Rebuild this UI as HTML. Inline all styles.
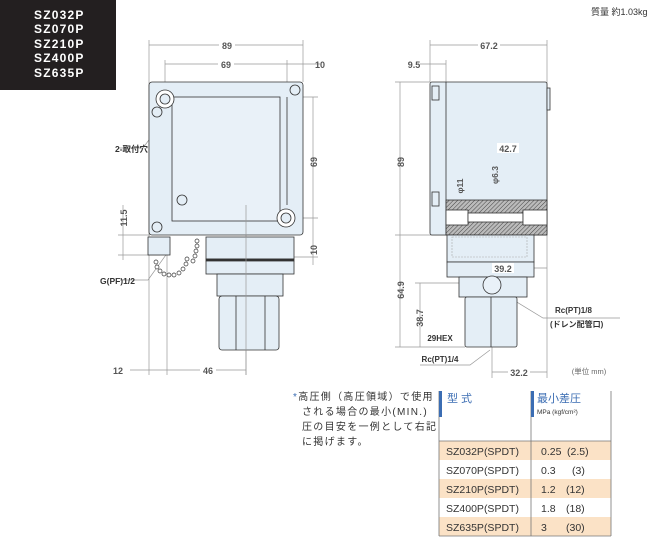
<!DOCTYPE html>
<html><head><meta charset="utf-8"><style>
body{margin:0;background:#fff;width:669px;height:551px;overflow:hidden;position:relative;font-family:"Liberation Sans","Noto Sans CJK JP",sans-serif}
svg{position:absolute;left:0;top:0}
</style></head><body>
<svg width="669" height="551" viewBox="0 0 669 551" font-family="Liberation Sans, Noto Sans CJK JP, sans-serif">
<defs>
<pattern id="h" width="3" height="3" patternUnits="userSpaceOnUse" patternTransform="rotate(45)"><rect width="3" height="3" fill="#bbb"/><line x1="0" y1="0" x2="0" y2="3" stroke="#444" stroke-width="1"/></pattern>
</defs>
<rect x="0" y="0" width="116" height="90" fill="#231f20"/>
<g fill="#fff" font-size="12" font-weight="bold" letter-spacing="1.2">
<text x="34" y="19">SZ032P</text><text x="34" y="33">SZ070P</text><text x="34" y="48">SZ210P</text><text x="34" y="62">SZ400P</text><text x="34" y="77">SZ635P</text>
</g>
<text x="591" y="15" font-size="9" fill="#333">質量 約1.03kg</text>

<!-- LEFT VIEW -->
<g stroke="#999" stroke-width="0.7" fill="none">
<line x1="149" y1="40" x2="149" y2="375"/><line x1="303" y1="40" x2="303" y2="82"/>
<line x1="149" y1="45" x2="303" y2="45"/>
<line x1="165" y1="60" x2="165" y2="100"/><line x1="287" y1="60" x2="287" y2="82"/>
<line x1="165" y1="64" x2="320" y2="64"/>
<line x1="278" y1="97" x2="318" y2="97"/><line x1="290" y1="218" x2="318" y2="218"/><line x1="294" y1="257" x2="318" y2="257"/>
<line x1="313" y1="97" x2="313" y2="265"/>
<line x1="118" y1="235" x2="150" y2="235"/><line x1="118" y1="255" x2="160" y2="255"/>
<line x1="123" y1="205" x2="123" y2="260"/>
<line x1="167" y1="250" x2="167" y2="375"/><line x1="246" y1="205" x2="246" y2="375"/>
<line x1="130" y1="370" x2="246" y2="370"/>
<polyline points="118,148 143,148 165,118"/>
<polyline points="120,280 148,280 168,252"/>
<polyline points="188,183 196,180 268,180"/>
</g>
<g fill="#555" font-size="9" font-weight="bold" text-anchor="middle">
<rect x="219" y="40" width="16" height="10" fill="#fff"/><text x="227" y="49">89</text>
<rect x="218" y="59" width="16" height="10" fill="#fff"/><text x="226" y="68">69</text>
<text x="320" y="68">10</text>
<text x="317" y="162" transform="rotate(-90 317 162)">69</text>
<text x="317" y="250" transform="rotate(-90 317 250)">10</text>
<text x="127" y="218" transform="rotate(-90 127 218)">11.5</text>
<rect x="112" y="365" width="12" height="10" fill="#fff"/><text x="118" y="374">12</text>
<rect x="200" y="365" width="16" height="10" fill="#fff"/><text x="208" y="374">46</text>
<text x="115" y="152" text-anchor="start" font-size="8.5" fill="#333">2-取付穴</text>
<text x="100" y="284" text-anchor="start" font-size="8.5" fill="#333">G(PF)1/2</text>
<text x="228" y="177" font-size="7" fill="#333">パイロットランプ(オプション)</text>
</g>
<g stroke="#333" stroke-width="0.8" fill="#e4eef6">
<rect x="149" y="82" width="154" height="153" rx="3"/>
<rect x="172" y="97" width="108" height="124" fill="#e9f1f8"/>
<line x1="287" y1="97" x2="287" y2="205"/>
<rect x="206" y="237" width="88" height="22"/>
<rect x="206" y="259" width="88" height="2" fill="#333"/>
<rect x="206" y="261" width="88" height="13"/>
<rect x="217" y="274" width="66" height="22"/>
<rect x="219" y="296" width="60" height="54" rx="3"/>
<line x1="236" y1="296" x2="236" y2="350"/><line x1="265" y1="296" x2="265" y2="350"/>
<rect x="148" y="237" width="22" height="18"/>
<circle cx="165" cy="99" r="9" fill="#fff"/><circle cx="165" cy="99" r="5"/>
<circle cx="286" cy="218" r="9" fill="#fff"/><circle cx="286" cy="218" r="5"/>
<circle cx="157" cy="112" r="5"/><circle cx="295" cy="90" r="5"/><circle cx="157" cy="227" r="5"/>
<circle cx="182" cy="200" r="5"/>
</g>
<g stroke="#333" stroke-width="0.7" fill="#fff">
<circle cx="156" cy="262" r="2"/><circle cx="157" cy="267" r="2"/><circle cx="160" cy="271" r="2"/><circle cx="164" cy="274" r="2"/><circle cx="169" cy="275" r="2"/><circle cx="174" cy="275" r="2"/><circle cx="179" cy="273" r="2"/><circle cx="183" cy="269" r="2"/><circle cx="186" cy="264" r="2"/><circle cx="187" cy="259" r="2"/><circle cx="197" cy="241" r="2"/><circle cx="197" cy="246" r="2"/><circle cx="196" cy="251" r="2"/><circle cx="195" cy="256" r="2"/><circle cx="193" cy="261" r="2"/>
</g>
<line x1="246" y1="205" x2="246" y2="375" stroke="#999" stroke-width="0.7"/>

<!-- RIGHT VIEW -->
<g stroke="#999" stroke-width="0.7" fill="none">
<line x1="430" y1="40" x2="430" y2="82"/><line x1="547" y1="40" x2="547" y2="378"/>
<line x1="430" y1="45" x2="547" y2="45"/>
<line x1="446" y1="60" x2="446" y2="82"/><line x1="420" y1="64" x2="446" y2="64"/>
<line x1="395" y1="82" x2="430" y2="82"/><line x1="395" y1="235" x2="447" y2="235"/><line x1="395" y1="347" x2="465" y2="347"/>
<line x1="400" y1="82" x2="400" y2="347"/>
<line x1="415" y1="283" x2="492" y2="283"/><line x1="420" y1="283" x2="420" y2="347"/>
<line x1="470" y1="140" x2="470" y2="200"/><line x1="470" y1="148" x2="547" y2="148"/>
<line x1="478" y1="255" x2="478" y2="270"/><line x1="478" y1="268" x2="547" y2="268"/>
<line x1="492" y1="345" x2="492" y2="378"/><line x1="492" y1="372" x2="547" y2="372"/>
<line x1="467" y1="337" x2="516" y2="337"/>
<polyline points="497,290 543,318 620,318"/>
<polyline points="490,350 470,365 420,365"/>
</g>
<g stroke="#333" stroke-width="0.8" fill="#e4eef6">
<rect x="430" y="82" width="117" height="153" rx="2"/>
<line x1="446" y1="82" x2="446" y2="235"/>
<rect x="547" y="88" width="3" height="22"/>
<rect x="446" y="200" width="101" height="35" fill="url(#h)"/>
<rect x="446" y="210" width="22" height="15" fill="#fff"/><rect x="468" y="213" width="55" height="9" fill="#fff"/><rect x="523" y="210" width="24" height="15" fill="#fff"/>
<rect x="432" y="86" width="7" height="14"/><rect x="432" y="192" width="7" height="14"/>
<rect x="447" y="235" width="87" height="27"/>
<rect x="447" y="262" width="87" height="15"/>
<rect x="459" y="277" width="68" height="20"/>
<rect x="465" y="297" width="52" height="50" rx="2"/>
<line x1="491" y1="297" x2="491" y2="347"/>
<circle cx="492" cy="285" r="9" fill="#e9f1f8"/>
</g>
<rect x="452" y="237" width="75" height="20" fill="none" stroke="#aaa" stroke-dasharray="2,1" stroke-width="0.6"/>
<g fill="#555" font-size="9" font-weight="bold" text-anchor="middle">
<rect x="478" y="40" width="22" height="10" fill="#fff"/><text x="489" y="49">67.2</text>
<text x="414" y="68">9.5</text>
<text x="404" y="162" transform="rotate(-90 404 162)">89</text>
<text x="404" y="290" transform="rotate(-90 404 290)">64.9</text>
<text x="423" y="318" transform="rotate(-90 423 318)">38.7</text>
<rect x="497" y="143" width="22" height="10" fill="#fff"/><text x="508" y="152">42.7</text>
<rect x="492" y="263" width="22" height="10" fill="#fff"/><text x="503" y="272">39.2</text>
<rect x="508" y="367" width="22" height="10" fill="#fff"/><text x="519" y="376">32.2</text>
<text x="463" y="186" transform="rotate(-90 463 186)" font-size="8.5">φ11</text>
<text x="498" y="175" transform="rotate(-90 498 175)" font-size="8.5">φ6.3</text>
<text x="555" y="313" text-anchor="start" font-size="8" fill="#333">Rc(PT)1/8</text>
<text x="550" y="327" text-anchor="start" font-size="8" fill="#333">(ドレン配管口)</text>
<text x="440" y="341" font-size="8" fill="#333">29HEX</text>
<text x="440" y="362" font-size="8" fill="#333">Rc(PT)1/4</text>
<text x="589" y="374" font-size="7.5" font-weight="normal" fill="#666">(単位 mm)</text>
</g>

<!-- NOTE -->
<g font-size="10" fill="#333" letter-spacing="1.3">
<text x="293" y="400"><tspan fill="#3b6db3">*</tspan>高圧側（高圧領域）で使用</text>
<text x="302" y="415">される場合の最小(MIN.)</text>
<text x="302" y="430">圧の目安を一例として右記</text>
<text x="302" y="445">に掲げます。</text>
</g>

<!-- TABLE -->
<rect x="439" y="441" width="172" height="19" fill="#fbe2c6"/>
<rect x="439" y="479" width="172" height="19" fill="#fbe2c6"/>
<rect x="439" y="517" width="172" height="19" fill="#fbe2c6"/>
<g stroke="#777" stroke-width="0.8" fill="none">
<line x1="439" y1="391" x2="439" y2="536"/><line x1="531" y1="391" x2="531" y2="536"/><line x1="611" y1="391" x2="611" y2="536"/>
<line x1="439" y1="441" x2="611" y2="441"/><line x1="439" y1="536" x2="611" y2="536"/>
</g>
<rect x="439" y="391" width="3" height="26" fill="#3b6db3"/><rect x="531" y="391" width="3" height="26" fill="#3b6db3"/>
<text x="447" y="402" font-size="11" fill="#3b6db3">型 式</text>
<text x="537" y="402" font-size="11" fill="#3b6db3">最小差圧</text>
<text x="537" y="414" font-size="6.5" fill="#333">MPa (kgf/cm²)</text>
<g font-size="10.5" fill="#333">
<text x="446" y="455">SZ032P(SPDT)</text><text x="541" y="455">0.25 <tspan x="567">(2.5)</tspan></text>
<text x="446" y="474">SZ070P(SPDT)</text><text x="541" y="474">0.3 <tspan x="572">(3)</tspan></text>
<text x="446" y="493">SZ210P(SPDT)</text><text x="541" y="493">1.2 <tspan x="566">(12)</tspan></text>
<text x="446" y="512">SZ400P(SPDT)</text><text x="541" y="512">1.8 <tspan x="566">(18)</tspan></text>
<text x="446" y="531">SZ635P(SPDT)</text><text x="541" y="531">3 <tspan x="566">(30)</tspan></text>
</g>
</svg>
</body></html>
